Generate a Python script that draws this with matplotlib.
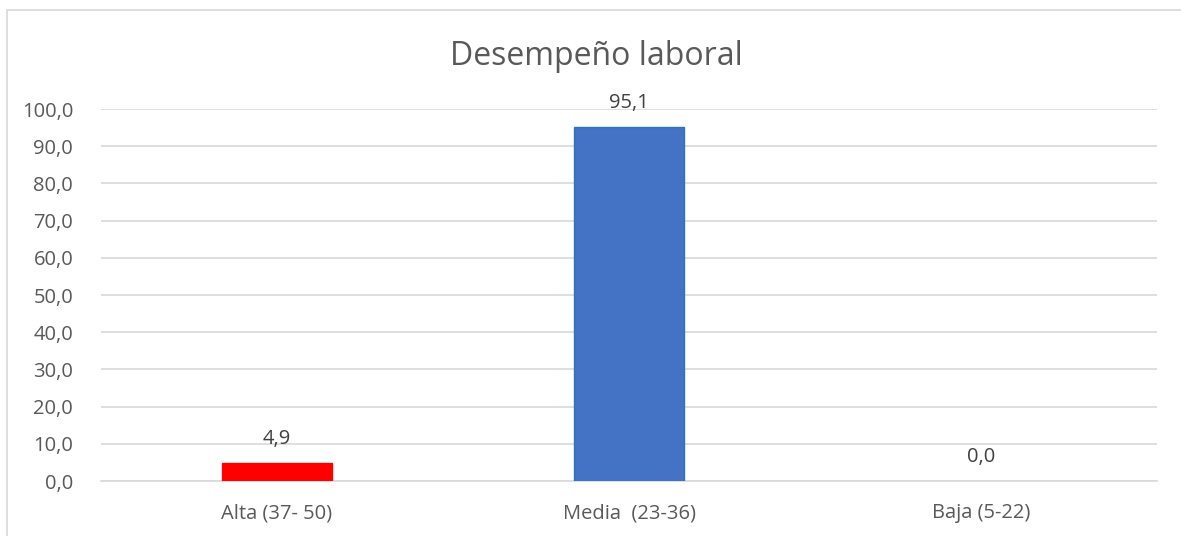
import matplotlib.pyplot as plt

# datos
categorias = ["Alta (37- 50)", "Media  (23-36)", "Baja (5-22)"]
valores = [4.9, 95.1, 0.0]
colores = ["#FF0000", "#4472C4", "#4472C4"]
bordes = ["#FF0000", "#2E75B6", "#2E75B6"]
yticks = [0, 10, 20, 30, 40, 50, 60, 70, 80, 90, 100]

plt.rcParams['font.family'] = ['Open Sans', 'DejaVu Sans']
gris = "#595959"

fig = plt.figure(figsize=(11.81, 5.36), dpi=100)
ax = fig.add_axes([0.0855, 0.1026, 0.8942, 0.694])

# marco del grafico (sale por la derecha y por abajo)
marco = plt.Rectangle((0.006, -0.05), 1.05, 1.031, transform=fig.transFigure,
                      fill=False, edgecolor="#D9D9D9", linewidth=1.2)
fig.patches.append(marco)

x_pos = range(len(categorias))
barras = ax.bar(x_pos, valores, width=0.315, color=colores, edgecolor=bordes,
                linewidth=[1 if v > 0 else 0 for v in valores], zorder=3)

for b, v in zip(barras, valores):
    ax.annotate(f"{v:.1f}".replace(".", ","),
                (b.get_x() + b.get_width() / 2, b.get_height()),
                xytext=(0, 10), textcoords="offset points",
                ha="center", va="bottom", fontsize=14.5, color="#404040")

ax.set_xlim(-0.5, 2.5)
ax.set_ylim(0, 100)
ax.set_yticks(yticks)
ax.set_yticklabels([f"{t:.1f}".replace(".", ",") for t in yticks])
ax.set_xticks(list(x_pos))
ax.set_xticklabels(categorias)
ax.tick_params(axis="both", length=0, labelsize=14.5, labelcolor=gris)
ax.tick_params(axis="y", pad=20)
ax.tick_params(axis="x", pad=16)

ax.grid(axis="y", color="#D9D9D9", linewidth=1.2, zorder=0)
for s in ["top", "right", "left"]:
    ax.spines[s].set_visible(False)
ax.spines["bottom"].set_color("#D9D9D9")
ax.spines["bottom"].set_linewidth(1.2)

fig.text(0.505, 0.895, "Desempeño laboral", ha="center", va="center",
         fontsize=23, color=gris)

plt.savefig("out.png", dpi=100)
plt.close()
